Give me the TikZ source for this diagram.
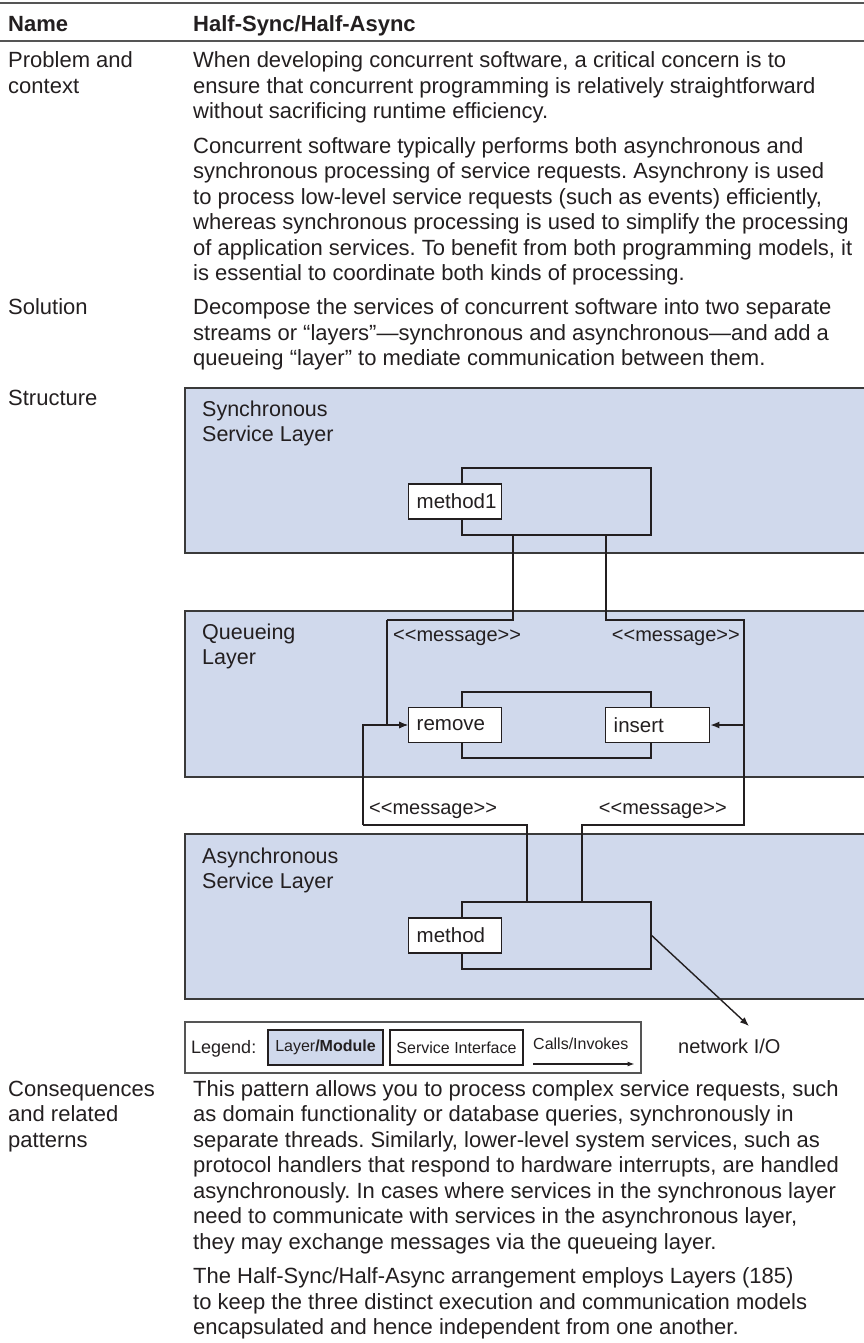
\documentclass[tikz,border=0pt]{standalone}
\usepackage{fontspec}
\setmainfont{Liberation Sans}
\usetikzlibrary{arrows.meta}
\usetikzlibrary{positioning}
\frenchspacing

% stereotype label, kept from turning into guillemets
\newcommand{\stereo}[1]{<\kern0pt<#1>\kern0pt>}

\begin{document}
\begin{tikzpicture}[x=1pt,y=-1pt,
    every node/.style={inner sep=0pt,text=ink},
    body/.style={anchor=base west,align=left,font=\fontsize{22}{25.5}\selectfont},
    head/.style={anchor=base west,font=\fontsize{22}{25.5}\selectfont\bfseries},
    layer/.style={draw=frame,line width=2pt,fill=layerbg},
    lname/.style={anchor=base west,align=left,font=\fontsize{21.5}{25}\selectfont},
    module/.style={draw=ink,line width=1.4pt,minimum width=189pt,minimum height=67pt},
    service/.style={draw=ink,line width=1.4pt,fill=white,anchor=west,minimum height=35pt,
      inner xsep=8pt,text width=77pt,align=left,font=\fontsize{20.5}{24}\selectfont},
    wire/.style={draw=ink,line width=1.4pt},
    call/.style={wire,-{Latex[length=9pt,width=7pt]}},
    msg/.style={font=\fontsize{20}{24}\selectfont},
    key/.style={draw=ink,line width=1.2pt,minimum height=35pt,font=\fontsize{16}{19}\selectfont}]
  \definecolor{ink}{HTML}{231F20}
  \definecolor{frame}{HTML}{3A3A3A}
  \definecolor{rule}{HTML}{555555}
  \definecolor{layerbg}{HTML}{D0D9EC}
  \useasboundingbox (0,0) rectangle (864,1343);

  % table head
  \draw[rule,line width=2pt] (0,3) -- (864,3);
  \draw[rule,line width=1.5pt] (0,41) -- (864,41);
  \node[head] (namehd) at (8,32) {Name};
  \node[head] (title) at (193,32) {Half-Sync/Half-Async};

  % text rows (nodes sit on the baseline of their last line)
  \node[body] (probhd) at (8,93.5) {Problem and\\context};
  \node[body] (prob1) at (193,119) {When developing concurrent software, a critical concern is to\\
    ensure that concurrent programming is relatively straightforward\\
    without sacrificing runtime efficiency.};
  \node[body] (prob2) at (193,280.5) {Concurrent software typically performs both asynchronous and\\
    synchronous processing of service requests. Asynchrony is used\\
    to process low-level service requests (such as events) efficiently,\\
    whereas synchronous processing is used to simplify the processing\\
    of application services. To benefit from both programming models, it\\
    is essential to coordinate both kinds of processing.};
  \node[body] (solhd) at (8,314.5) {Solution};
  \node[body] (sol) at (193,365.5) {Decompose the services of concurrent software into two separate\\
    streams or “layers”—synchronous and asynchronous—and add a\\
    queueing “layer” to mediate communication between them.};
  \node[body] (structhd) at (8,405) {Structure};

  % the three layers
  \draw[layer] (185,388) rectangle (880,553);
  \draw[layer] (185,611) rectangle (880,777);
  \draw[layer] (185,834) rectangle (880,999);
  \node[lname] (synclbl) at (202,441) {Synchronous\\Service Layer};
  \node[lname] (queuelbl) at (202,664) {Queueing\\Layer};
  \node[lname] (asynclbl) at (202,888) {Asynchronous\\Service Layer};

  % modules and their interfaces
  \node[module] (syncmod) at (556.5,501.5) {};
  \node[service] (method1) at (408,501.5) {method1};
  \node[module,minimum height=66pt] (queuemod) at (556.5,725) {};
  \node[service] (remove) at (408,725) {remove};
  \node[service,text width=88pt] (insert) at (605,725) {insert};
  \node[module] (asyncmod) at (556.5,935.5) {};
  \node[service] (method) at (408,935.5) {method};

  % message paths through the queue
  \coordinate (s1) at ([xshift=-43.5pt]syncmod.south);
  \coordinate (s2) at ([xshift=49.5pt]syncmod.south);
  \coordinate (a1) at ([xshift=-29.5pt]asyncmod.north);
  \coordinate (a2) at ([xshift=25.5pt]asyncmod.north);
  \coordinate (ql) at (387,620);
  \coordinate (qr) at (744,620);
  \coordinate (al) at (363,825);
  \coordinate (ar) at (744,825);
  \draw[wire] (s1) |- (ql);
  \draw[call] (ql) |- (remove.west);
  \draw[wire] (s2) |- (qr) -- (ar) -| (a2);
  \draw[call] (insert.east -| qr) -- (insert.east);
  \draw[wire] (a1) |- (al);
  \draw[call] (al) |- (remove.west);
  \node[msg,anchor=base west] (msg1) at (393,641) {\stereo{message}};
  \node[msg,anchor=base east] (msg2) at (740,641) {\stereo{message}};
  \node[msg,anchor=base west] (msg3) at (369,814) {\stereo{message}};
  \node[msg,anchor=base east] (msg4) at (727,814) {\stereo{message}};

  % network side
  \node[msg,anchor=base west] (netio) at (678,1053) {network I/O};
  \coordinate (netin) at (749,1026);
  \draw[call] (asyncmod.east) -- (netin);

  % legend
  \draw[rule,line width=1.2pt] (185,1022) rectangle (641,1073);
  \node[anchor=base west,font=\fontsize{18}{21}\selectfont] (legend) at (191,1053) {Legend:};
  \node[key,fill=layerbg,minimum width=115pt] (keylayer) at (325.5,1047.5) {Layer\textbf{/Module}};
  \node[key,fill=white,minimum width=133pt] (keyiface) at (456.5,1047.5) {Service Interface};
  \node[anchor=base west,font=\fontsize{16}{19}\selectfont] (keycall) at (533,1049) {Calls/Invokes};
  \draw[wire,line width=1.2pt,-{Latex[length=7pt,width=5pt]}]
    ([yshift=-15pt]keycall.base west) -- ([yshift=-15pt,xshift=6pt]keycall.base east);

  % consequences
  \node[body] (conshd) at (8,1147.3) {Consequences\\and related\\patterns};
  \node[body] (cons1) at (193,1249.3) {This pattern allows you to process complex service requests, such\\
    as domain functionality or database queries, synchronously in\\
    separate threads. Similarly, lower-level system services, such as\\
    protocol handlers that respond to hardware interrupts, are handled\\
    asynchronously. In cases where services in the synchronous layer\\
    need to communicate with services in the asynchronous layer,\\
    they may exchange messages via the queueing layer.};
  \node[body] (cons2) at (193,1334.8) {The Half-Sync/Half-Async arrangement employs Layers (185)\\
    to keep the three distinct execution and communication models\\
    encapsulated and hence independent from one another.};
\end{tikzpicture}
\end{document}
